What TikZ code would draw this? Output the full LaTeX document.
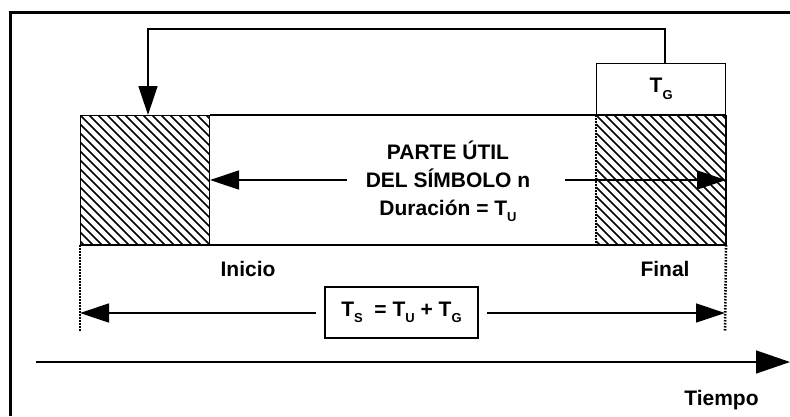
\documentclass[tikz,border=0pt]{standalone}
\usepackage{fontspec}
\setmainfont{Liberation Sans}
\usetikzlibrary{arrows.meta,calc}
\newcommand\subx[1]{\raisebox{-0.3em}{\fontsize{13}{13}\selectfont #1}}
\begin{document}
\begin{tikzpicture}[x=1pt,y=-1pt,
  line/.style={line width=1.4pt},
  big/.style={-{Triangle[length=29pt,width=19pt]}},
  lbl/.style={font=\bfseries\fontsize{21}{28}\selectfont, inner sep=0pt},
  hatchbox/.style={line width=1pt, minimum width=129pt, minimum height=129pt, inner sep=0pt, anchor=north west,
    path picture={\foreach \i in {-16,...,16}{\draw[line width=1.5pt] ($(path picture bounding box.north west)+(\i*9,0)$) -- ++(150,150);}}},
  plainbox/.style={draw, line width=1.3pt, inner sep=0pt},
  dotline/.style={line width=2.6pt, dash pattern=on 1.5pt off 1.5pt},
]
\useasboundingbox (0,0) rectangle (790,416);
% frame
\coordinate (fbl) at (10,416);
\coordinate (ftl) at (10,12);
\coordinate (ftr) at (790,12);
\draw[line width=3pt] (fbl) -- (ftl) -- (ftr);

% hatched boxes
\node[hatchbox, draw] (lh) at (80,115) {};
\node[hatchbox] (rh) at (596,115) {};
\draw[line width=1.3pt] (rh.north west) -- (rh.north east);
\draw[dotline] (rh.north west) -- (rh.south west);
\draw[line width=1.3pt] (rh.north east) -- (rh.south east);
% main rect lines
\draw[line width=1.3pt] (lh.north east) -- (rh.north west);
\draw[line width=1.3pt] (lh.south west) -- (rh.south east);

% T_G box
\node[plainbox, minimum width=129pt, minimum height=51pt, anchor=south west, font=\bfseries\fontsize{21}{22}\selectfont] (tg) at (rh.north west) {T\subx{G}};

% feedback arrow
\coordinate (fb) at (148,29);
\draw[line, big] ([xshift=4pt]tg.north) |- (fb) -- (fb |- lh.north);

% central text
\node[lbl, align=center] (parte) at (448,181) {PARTE ÚTIL\\DEL SÍMBOLO n\\Duración = T\subx{U}};
\coordinate (la) at (347,180);
\coordinate (ra) at (565,180);
\draw[line, big] (la) -- (la -| lh.east);
\draw[line, big] (ra) -- (ra -| rh.east);

% dotted limits
\coordinate (dl) at (80,331);
\coordinate (dr) at (725,331);
\draw[dotline] (lh.south west) -- (dl);
\draw[dotline] (rh.south east) -- (dr);

\node[lbl] (ini) at (248,269) {Inicio};
\node[lbl] (fin) at (665,269) {Final};

% Ts box
\node[plainbox, minimum width=153pt, minimum height=51pt, font=\bfseries\fontsize{21}{22}\selectfont] (ts) at (401.5,312.5) {T\subx{S}\ \ =\ T\subx{U}\ +\ T\subx{G}};
\coordinate (tl) at (316,313);
\coordinate (tr) at (487,313);
\draw[line, big] (tl) -- (tl -| dl);
\draw[line, big] (tr) -- (tr -| dr);

% time axis
\coordinate (ax0) at (36,362);
\coordinate (ax1) at (790,362);
\draw[line, -{Triangle[length=34pt,width=23pt]}] (ax0) -- (ax1);
\node[lbl] (tiempo) at (721.5,400) {Tiempo};
\end{tikzpicture}
\end{document}
